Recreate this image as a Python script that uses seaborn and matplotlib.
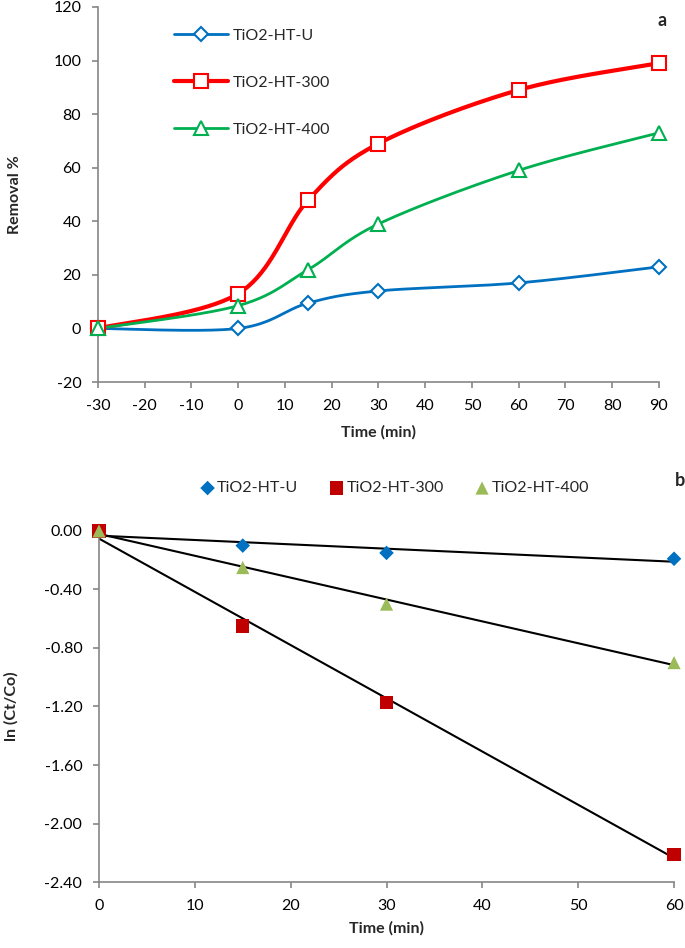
import numpy as np
import pandas as pd
import matplotlib
matplotlib.use("Agg")
import matplotlib.pyplot as plt
import seaborn as sns
from matplotlib.lines import Line2D
from matplotlib.ticker import FuncFormatter

# panel a data (removal %)
time_a = [-30, 0, 15, 30, 60, 90]
removal_u = [0, 0, 9.5, 14, 17, 23]
removal_300 = [0, 13, 48, 69, 89, 99]
removal_400 = [0, 8.5, 22, 39, 59, 73]

# panel b data (ln Ct/Co)
time_b = [0, 15, 30, 60]
ln_u = [0, -0.10, -0.15, -0.19]
ln_300 = [0, -0.65, -1.17, -2.21]
ln_400 = [0, -0.25, -0.50, -0.90]

labels = ["TiO2-HT-U", "TiO2-HT-300", "TiO2-HT-400"]
yticks_b = [-2.4, -2.0, -1.6, -1.2, -0.8, -0.4, 0.0]

sns.set_style("ticks")
plt.rcParams["font.family"] = ["Lato", "DejaVu Sans"]
plt.rcParams["axes.unicode_minus"] = False

GRAY = "#868686"
FS = 11.5


def smooth(x, y, n=40):
    # excel-like smoothed line (catmull-rom as bezier)
    x = np.asarray(x, float)
    y = np.asarray(y, float)
    px = np.concatenate([[x[0]], x, [x[-1]]])
    py = np.concatenate([[y[0]], y, [y[-1]]])
    xs, ys = [], []
    t = np.linspace(0, 1, n)
    for i in range(1, len(px) - 2):
        p0 = np.array([px[i], py[i]])
        p3 = np.array([px[i + 1], py[i + 1]])
        c1 = p0 + (p3 - np.array([px[i - 1], py[i - 1]])) / 6
        c2 = p3 - (np.array([px[i + 2], py[i + 2]]) - p0) / 6
        b = ((1 - t) ** 3)[:, None] * p0 + (3 * (1 - t) ** 2 * t)[:, None] * c1 \
            + (3 * (1 - t) * t ** 2)[:, None] * c2 + (t ** 3)[:, None] * p3
        xs.extend(b[:, 0])
        ys.extend(b[:, 1])
    return xs, ys


def style_axes(ax):
    sns.despine(ax=ax)
    for s in ["left", "bottom"]:
        ax.spines[s].set_color(GRAY)
        ax.spines[s].set_linewidth(1.2)
    ax.tick_params(colors=GRAY, labelcolor="black", labelsize=FS,
                   direction="out", length=4, width=1.2, pad=8)


fig = plt.figure(figsize=(6.85, 9.48), dpi=100)
ax1 = fig.add_axes([0.143, 0.597, 0.819, 0.3957])
ax2 = fig.add_axes([0.1445, 0.0696, 0.8395, 0.3703])

# ---- panel a ----
series_a = [
    (removal_u, "#0070C0", "D", 7, 2.0),
    (removal_300, "#FF0000", "s", 10, 3.0),
    (removal_400, "#00B050", "^", 10, 2.0),
]
handles = []
for (vals, col, mk, ms, lw), lab in zip(series_a, labels):
    sx, sy = smooth(time_a, vals)
    ax1.plot(sx, sy, color=col, lw=lw, zorder=2)
    ax1.plot(time_a, vals, ls="none", marker=mk, ms=ms, mfc="white",
             mec=col, mew=1.5, zorder=3, clip_on=False)
    handles.append(Line2D([], [], color=col, lw=lw, marker=mk, ms=ms,
                          mfc="white", mec=col, mew=1.5))

ax1.set_xlim(-30, 90)
ax1.set_ylim(-20, 120)
ax1.set_xticks(range(-30, 91, 10))
ax1.set_yticks(range(-20, 121, 20))
style_axes(ax1)
ax1.set_xlabel("Time (min)", fontsize=FS, fontweight="bold")
ax1.set_ylabel("Removal %", fontsize=FS, fontweight="bold")
ax1.xaxis.set_label_coords(0.5, -0.115)
ax1.yaxis.set_label_coords(-0.135, 0.5)
ax1.legend(handles, labels, loc="upper left", bbox_to_anchor=(0.11, 0.98),
           frameon=False, fontsize=FS, handlelength=3.4, labelspacing=2.05,
           handletextpad=0.3)
ax1.text(1.005, 0.965, "a", transform=ax1.transAxes, fontsize=13,
         fontweight="bold", ha="center", va="center")

# ---- panel b ----
df_b = pd.DataFrame({
    "time": time_b * 3,
    "ln": ln_u + ln_300 + ln_400,
    "sample": [labels[0]] * 4 + [labels[1]] * 4 + [labels[2]] * 4,
})
colors_b = ["#0070C0", "#C00000", "#9BBB59"]
markers_b = ["D", "s", "^"]
sizes_b = [55, 90, 90]
for lab in labels:
    sub = df_b[df_b["sample"] == lab]
    sns.regplot(data=sub, x="time", y="ln", ax=ax2, scatter=False, ci=None,
                truncate=True, line_kws={"color": "black", "lw": 1.5, "zorder": 2})
for lab, col, mk, sz in zip(labels, colors_b, markers_b, sizes_b):
    sub = df_b[df_b["sample"] == lab]
    sns.scatterplot(data=sub, x="time", y="ln", ax=ax2, color=col, marker=mk,
                    s=sz, edgecolor="none", zorder=3, clip_on=False, label=lab)

ax2.set_xlim(0, 60)
ax2.set_ylim(-2.4, 0)
ax2.set_xticks(range(0, 61, 10))
ax2.set_yticks(yticks_b)
ax2.yaxis.set_major_formatter(FuncFormatter(lambda v, _: f"{v:.2f}" if abs(v) > 1e-9 else "0.00"))
style_axes(ax2)
ax2.set_xlabel("Time (min)", fontsize=FS, fontweight="bold")
ax2.set_ylabel("ln (Ct/Co)", fontsize=FS, fontweight="bold")
ax2.xaxis.set_label_coords(0.5, -0.111)
ax2.yaxis.set_label_coords(-0.139, 0.5)
ax2.legend(loc="center", bbox_to_anchor=(0.515, 1.122), ncol=3, frameon=False,
           fontsize=FS, handlelength=0.8, handletextpad=0.2, columnspacing=2.0)
ax2.text(1.01, 1.145, "b", transform=ax2.transAxes, fontsize=13,
         fontweight="bold", ha="center", va="center")

fig.savefig("out.png", dpi=100)
